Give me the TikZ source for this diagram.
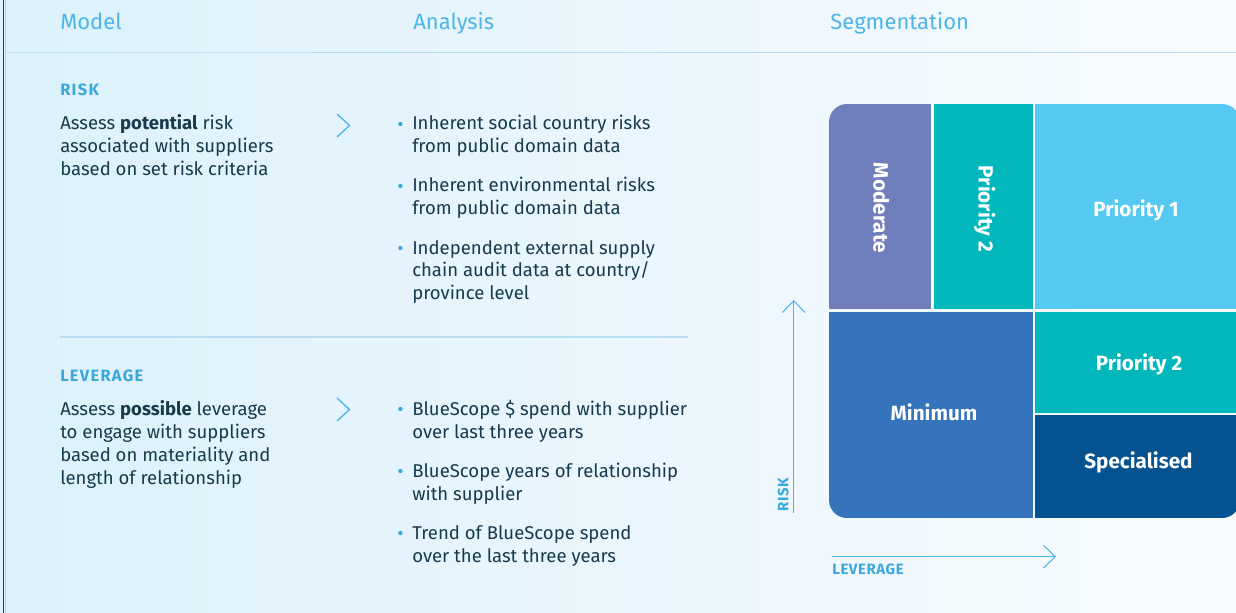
\documentclass[tikz,border=0pt]{standalone}
\usepackage{fontspec}
\setmainfont{Fira Sans}
\usetikzlibrary{arrows.meta}

\definecolor{bgleft}{HTML}{DCF1FB}
\definecolor{bgright}{HTML}{F7FBFE}
\definecolor{edgedark}{HTML}{1E4552}
\definecolor{edgelight}{HTML}{A9D9EE}
\definecolor{rulecol}{HTML}{BCDDF0}
\definecolor{headblue}{HTML}{4DB5E7}
\definecolor{sectblue}{HTML}{3AA8DD}
\definecolor{darktext}{HTML}{173A4C}
\definecolor{modcol}{HTML}{717EBC}
\definecolor{tealcol}{HTML}{00B7BC}
\definecolor{skycol}{HTML}{56C9F3}
\definecolor{mincol}{HTML}{3574BA}
\definecolor{speccol}{HTML}{04528F}

\tikzset{
  headtext/.style={anchor=base west, inner sep=0pt, text=headblue, font=\fontsize{16.5}{20}\selectfont},
  secttext/.style={anchor=base west, inner sep=0pt, text=sectblue, font=\fontsize{12.3}{14}\selectfont\bfseries\addfontfeature{LetterSpace=8}},
  bodytext/.style={anchor=base west, inner sep=0pt, align=left, text=darktext, font=\fontsize{13.9}{17.25}\selectfont},
  bulletdot/.style={circle, fill=sectblue, inner sep=0pt, minimum size=3.3pt},
  chevron/.style={draw=headblue, line width=1pt},
  celltext/.style={anchor=base, inner sep=0pt, text=white, font=\fontsize{15.5}{18}\selectfont\bfseries},
  axis/.style={draw=headblue, line width=0.8pt, -{Straight Barb[length=8.8pt,width=17pt]}},
  axistext/.style={anchor=base west, inner sep=0pt, text=sectblue, font=\fontsize{11.2}{13}\selectfont\bfseries\addfontfeature{LetterSpace=4}},
}

\begin{document}
\begin{tikzpicture}[x=0.75pt,y=0.75pt,yscale=-1,xscale=1]
\useasboundingbox (0,0) rectangle (1236,613);

%Shape: Background
\shade[left color=bgleft, right color=bgright] (0,0) rectangle (1236,613);
%Straight Lines: left edge
\draw[edgedark, line width=1pt] (3.6,0) -- (3.6,613);
\draw[edgelight, line width=0.75pt] (5,0) -- (5,613);
%Straight Lines: rules
\draw[rulecol, line width=1.1pt] (5,52.3) -- (1236,52.3);
\draw[rulecol, line width=1pt] (60,337) -- (688,337);

% Text Node: column heads
\node[headtext] (model) at (60,30) {Model};
\node[headtext] (analysis) at (413,30) {Analysis};
\node[headtext] (segmentation) at (830,30) {Segmentation};

% Text Node: risk block (anchored at the last baseline)
\node[secttext] (riskhead) at (60,96) {RISK};
\node[bodytext] (riskbody) at (60,176) {Assess \textbf{potential} risk\\associated with suppliers\\based on set risk criteria};
%Shape: Chevron
\draw[chevron] (337,114) -- (349.5,125.5) -- (337,137);

\node[bulletdot] (rdot1) at (400.4,124) {};
\node[bodytext] (ritem1) at (412,153) {Inherent social country risks\\from public domain data};
\node[bulletdot] (rdot2) at (400.4,186) {};
\node[bodytext] (ritem2) at (412,215) {Inherent environmental risks\\from public domain data};
\node[bulletdot] (rdot3) at (400.4,248) {};
\node[bodytext] (ritem3) at (412,300) {Independent external supply\\chain audit data at country/\\province level};

% Text Node: leverage block
\node[secttext] (levhead) at (60,381) {LEVERAGE};
\node[bodytext] (levbody) at (60,484) {Assess \textbf{possible} leverage\\to engage with suppliers\\based on materiality and\\length of relationship};
%Shape: Chevron
\draw[chevron] (337,398) -- (349.5,409.5) -- (337,421);

\node[bulletdot] (ldot1) at (400.4,409) {};
\node[bodytext] (litem1) at (412,438) {BlueScope \$ spend with supplier\\over last three years};
\node[bulletdot] (ldot2) at (400.4,471) {};
\node[bodytext] (litem2) at (412,500) {BlueScope years of relationship\\with supplier};
\node[bulletdot] (ldot3) at (400.4,533) {};
\node[bodytext] (litem3) at (412,562) {Trend of BlueScope spend\\over the last three years};

%Shape: Segmentation matrix
\begin{scope}
\clip[rounded corners=13.5pt] (829,104) rectangle (1240,518);
\fill[modcol] (829,104) rectangle (931.3,309.3);
\fill[tealcol] (934.1,104) rectangle (1032.6,309.3);
\fill[skycol] (1035.4,104) rectangle (1240,309.3);
\fill[mincol] (829,312.1) rectangle (1032.6,518);
\fill[tealcol] (1035.4,312.1) rectangle (1240,412.6);
\fill[speccol] (1035.4,415.4) rectangle (1240,518);
\end{scope}

% Text Node: cell labels
\node[celltext, rotate=-90] (moderate) at (873.5,208) {Moderate};
\node[celltext, rotate=-90] (prioritytwoup) at (978.7,209) {Priority 2};
\node[celltext] (priorityone) at (1136,216.5) {Priority 1};
\node[celltext] (prioritytwo) at (1139,370) {Priority 2};
\node[celltext] (minimum) at (934,420) {Minimum};
\node[celltext] (specialised) at (1138.5,468.3) {Specialised};

%Straight Lines: axes
\coordinate (riskfoot) at (793.7,513);
\coordinate (risktip) at (793.7,300);
\draw[axis] (riskfoot) -- (risktip);
\coordinate (levfoot) at (831.7,556.7);
\coordinate (levtip) at (1056,556.7);
\draw[axis] (levfoot) -- (levtip);

% Text Node: axis labels
\node[axistext, rotate=90] (risklabel) at (788.3,512) {RISK};
\node[axistext] (levlabel) at (832,574.3) {LEVERAGE};

\end{tikzpicture}
\end{document}
